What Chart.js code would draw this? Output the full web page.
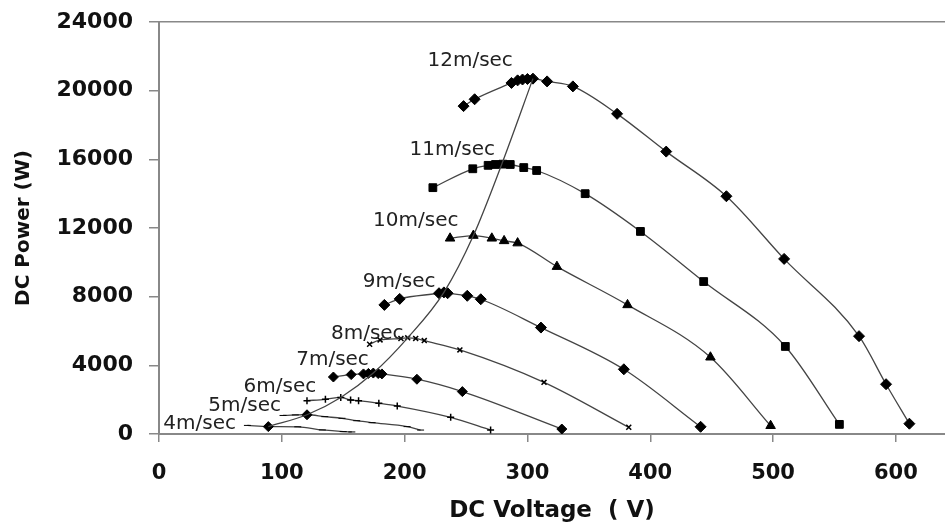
<!DOCTYPE html>
<html lang="en">
<head>
<meta charset="UTF-8">
<title>DC Power vs DC Voltage</title>
<script src="https://cdn.jsdelivr.net/npm/chart.js@4"></script>
<style>
  html, body { margin: 0; padding: 0; background: #fff; }
  #wrap { width: 945px; height: 525px; }
</style>
</head>
<body>
<div id="wrap"><canvas id="myChart"></canvas></div>
<script>
// [voltage V, power W], one list per wind speed
const speed12 = [[248, 19100], [257, 19500], [287, 20450], [292, 20600], [296, 20650], [300, 20680], [304.5, 20700], [316, 20540], [337, 20250], [373, 18650], [413, 16450], [462, 13850], [509, 10200], [570, 5700], [592, 2900], [611, 600]];
const speed11 = [[223, 14350], [255.5, 15450], [268, 15650], [274, 15700], [280, 15720], [286, 15700], [297, 15520], [307.5, 15350], [347, 14000], [392, 11800], [443.5, 8880], [510, 5100], [554, 560]];
const speed10 = [[237, 11400], [256, 11560], [271, 11400], [281, 11250], [292, 11120], [324, 9750], [381.5, 7520], [449, 4470], [498, 480]];
const speed9 = [[183.5, 7520], [196, 7870], [228, 8200], [232, 8250], [235, 8200], [251, 8050], [262, 7850], [311, 6200], [378.5, 3770], [441, 420]];
const speed8 = [[171.5, 5230], [180, 5480], [197, 5560], [202.5, 5600], [209, 5570], [216, 5440], [245, 4900], [313.5, 3010], [382.5, 390]];
const speed7 = [[142, 3320], [156.5, 3460], [166.5, 3500], [170.5, 3530], [174.5, 3550], [178.5, 3520], [181.5, 3500], [210, 3190], [247, 2470], [328, 290]];
const speed6 = [[120.5, 1940], [135.5, 2020], [148, 2130], [156, 1980], [162.5, 1940], [179, 1790], [194, 1630], [237.5, 970], [270, 230]];
const speed5 = [[101, 1080], [111, 1110], [120.5, 1120], [135, 1010], [149, 915], [161, 775], [173.5, 660], [202, 430], [213, 230]];
const speed4 = [[72, 500], [89, 430], [113, 420], [133, 235], [150, 140], [157, 120]];
const maxPower = [[89, 430], [120.5, 1120], [148, 2130], [174.5, 3550], [202.5, 5600], [232, 8250], [256, 11560], [279, 15700], [304.5, 20700]];

const labelText = ['12m/sec', '11m/sec', '10m/sec', '9m/sec', '8m/sec', '7m/sec', '6m/sec', '5m/sec', '4m/sec'];
const labelAt = [[218.6, 21745], [204, 16557], [174.3, 12430], [166, 8876], [140, 5829], [111.7, 4314], [68.9, 2760], [40.2, 1632], [3.5, 623]];

const xTicks = [0, 100, 200, 300, 400, 500, 600];
const yTicks = [0, 4000, 8000, 12000, 16000, 20000, 24000];

const lineGrey = '#444';

function curve(data, style, radius, extra) {
  return Object.assign({
    data: data,
    showLine: true,
    borderColor: lineGrey,
    borderWidth: 1.3,
    cubicInterpolationMode: 'monotone',
    pointStyle: style,
    pointRadius: radius,
    pointBackgroundColor: '#000',
    pointBorderColor: '#000',
    pointBorderWidth: 1
  }, extra || {});
}

const speedLabels = {
  id: 'speedLabels',
  afterDatasetsDraw(chart) {
    const { ctx, scales: { x, y } } = chart;
    ctx.save();
    ctx.font = '20px "DejaVu Sans"';
    ctx.fillStyle = '#222';
    ctx.textAlign = 'left';
    ctx.textBaseline = 'middle';
    labelText.forEach((t, i) => {
      ctx.fillText(t, x.getPixelForValue(labelAt[i][0]), y.getPixelForValue(labelAt[i][1]));
    });
    ctx.restore();
  }
};

const config = {
  type: 'scatter',
  data: {
    datasets: [
      curve(maxPower, 'circle', 0),
      curve(speed12, 'rectRot', 5.5),
      curve(speed11, 'rect', 5.5),
      curve(speed10, 'triangle', 5.5),
      curve(speed9, 'rectRot', 5.5),
      curve(speed8, 'crossRot', 3.5, { pointBorderWidth: 1.5 }),
      curve(speed7, 'rectRot', 5),
      curve(speed6, 'cross', 3.5, { pointBorderWidth: 1.5 }),
      curve(speed5, speed5.map((p, i) => i === 2 ? 'rectRot' : 'line'), speed5.map((p, i) => i === 2 ? 5 : 3.5)),
      curve(speed4, speed4.map((p, i) => i === 1 ? 'rectRot' : 'line'), speed4.map((p, i) => i === 1 ? 5 : 3.5))
    ]
  },
  options: {
    responsive: true,
    maintainAspectRatio: false,
    animation: false,
    layout: { autoPadding: false, padding: { top: 22, right: 0, left: 0, bottom: 0 } },
    plugins: { legend: { display: false }, tooltip: { enabled: false } },
    scales: {
      x: {
        type: 'linear',
        min: 0,
        max: 640,
        afterBuildTicks: (scale) => { scale.ticks = xTicks.map(v => ({ value: v })); },
        afterFit: (scale) => {
          scale.height = 91;
          scale.paddingLeft = 0;
          scale.paddingRight = 0;
        },
        border: { color: '#888', width: 2 },
        grid: { drawOnChartArea: false, tickLength: 8, color: '#888', lineWidth: 1.5 },
        ticks: {
          padding: 19,
          color: '#111',
          font: { family: '"DejaVu Sans"', size: 21, weight: 'bold' },
          callback: (v) => String(v),
          maxRotation: 0
        },
        title: {
          display: true,
          text: 'DC Voltage  ( V)',
          color: '#111',
          font: { family: '"DejaVu Sans"', size: 23, weight: 'bold' },
          padding: { top: 0, bottom: 0 }
        }
      },
      y: {
        min: 0,
        max: 24000,
        afterBuildTicks: (scale) => { scale.ticks = yTicks.map(v => ({ value: v })); },
        afterFit: (scale) => {
          scale.width = 159;
          scale.paddingTop = 0;
          scale.paddingBottom = 0;
        },
        border: { color: '#888', width: 2 },
        grid: {
          tickLength: 10,
          lineWidth: 1.5,
          tickColor: '#888',
          color: (c) => (c.tick && c.tick.value === 24000) ? '#888' : 'rgba(0,0,0,0)'
        },
        ticks: {
          padding: 16,
          color: '#111',
          font: { family: '"DejaVu Sans"', size: 22, weight: 'bold' },
          callback: (v) => String(v)
        },
        title: {
          display: true,
          text: 'DC Power (W)',
          color: '#111',
          font: { family: '"DejaVu Sans"', size: 20, weight: 'bold' },
          padding: { top: 12, bottom: 0 }
        }
      }
    }
  },
  plugins: [speedLabels]
};

const myChart = new Chart(document.getElementById('myChart'), config);
</script>
</body>
</html>
